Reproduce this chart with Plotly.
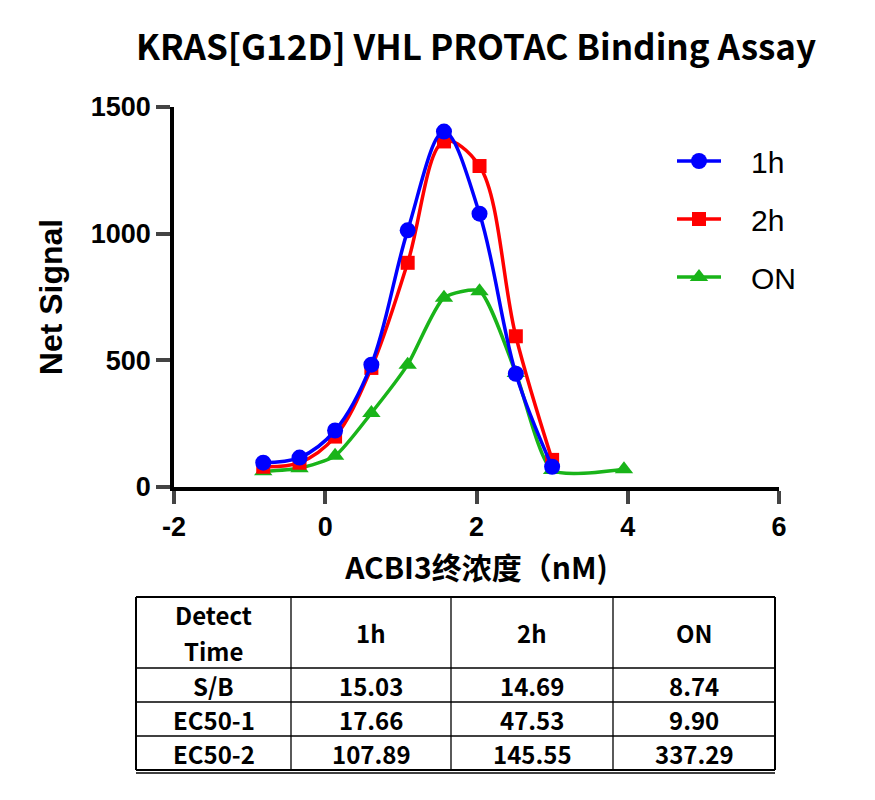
"""
KRAS[G12D] VHL PROTAC binding assay: net signal vs log concentration,
with a summary table of S/B and EC50 values underneath.
"""

import plotly.graph_objects as go

# log10 of ACBI3 final concentration (nM)
log_conc = [-0.82, -0.34, 0.13, 0.61, 1.09, 1.57, 2.04, 2.52, 3.00]
log_conc_on = [-0.82, -0.34, 0.13, 0.61, 1.09, 1.57, 2.04, 2.52, 3.00, 3.95]

signal_1h = [96, 116, 223, 483, 1013, 1403, 1079, 447, 80]
signal_2h = [80, 96, 199, 470, 885, 1364, 1267, 595, 107]
signal_on = [62, 74, 123, 292, 483, 747, 773, 450, 67, 70]

x_ticks = [-2, 0, 2, 4, 6]
x_ticktext = ["-2", "0", "2", "4", "6"]
y_ticks = [0, 500, 1000, 1500]

# summary table
table_header = ["Detect<br>Time", "1h", "2h", "ON"]
row_labels = ["S/B", "EC50-1", "EC50-2"]
col_1h = ["15.03", "17.66", "107.89"]
col_2h = ["14.69", "47.53", "145.55"]
col_on = ["8.74", "9.90", "337.29"]

BLUE = "#0000FF"
RED = "#FF0000"
GREEN = "#19B419"
CJK = "Noto Sans CJK SC"
ARIAL = "Liberation Sans"
W, H = 875, 800
OFF = 8  # the page body margin shifts the figure by this much
NB = "\u00a0"  # pads legend labels away from the symbol


def px(x):
    return (x - OFF) / W


def py(y):
    return 1 - (y - OFF) / H


fig = go.Figure()

# drawn in this order so blue sits on top, as in the reference
fig.add_trace(go.Scatter(
    x=log_conc_on, y=signal_on, name=NB * 3 + "ON",
    mode="lines+markers", line=dict(color=GREEN, width=3.5, shape="spline", smoothing=0.6),
    marker=dict(symbol="triangle-up", size=16, color=GREEN),
    legendgroup="on", legendrank=3,
))
fig.add_trace(go.Scatter(
    x=log_conc, y=signal_2h, name=NB * 3 + "2h",
    mode="lines+markers", line=dict(color=RED, width=3.5, shape="spline", smoothing=1.0),
    marker=dict(symbol="square", size=14, color=RED),
    legendgroup="2h", legendrank=2,
))
fig.add_trace(go.Scatter(
    x=log_conc, y=signal_1h, name=NB * 3 + "1h",
    mode="lines+markers", line=dict(color=BLUE, width=3.5, shape="spline", smoothing=1.0),
    marker=dict(symbol="circle", size=16, color=BLUE),
    legendgroup="1h", legendrank=1,
))

axis_font = dict(family=ARIAL, size=27, color="black", weight="bold")

fig.update_layout(
    width=W, height=H,
    margin=dict(l=0, r=0, t=0, b=0),
    plot_bgcolor="white", paper_bgcolor="white",
    title=dict(
        text="KRAS[G12D] VHL PROTAC Binding Assay",
        x=px(476), xanchor="center", y=py(48), yanchor="middle",
        font=dict(family=CJK, size=35, color="black", weight="bold"),
        automargin=False,
    ),
    xaxis=dict(
        domain=[px(174), px(779)], range=[-2, 6], automargin=False,
        tickvals=x_ticks, ticktext=x_ticktext,
        ticks="outside", ticklen=13, tickwidth=3.5,
        showline=True, linewidth=3.5, linecolor="black", showgrid=False, zeroline=False,
        tickfont=axis_font,
        title=dict(text="ACBI3终浓度（nM)", standoff=18,
                   font=dict(family=CJK, size=30, color="black", weight="bold")),
    ),
    yaxis=dict(
        domain=[py(487), py(107)], range=[0, 1500], automargin=False,
        tickvals=y_ticks, ticks="outside", ticklen=14, tickwidth=3.5,
        showline=True, linewidth=3.5, linecolor="black", showgrid=False, zeroline=False,
        tickfont=axis_font,
        title=dict(text="Net Signal", standoff=20,
                   font=dict(family=ARIAL, size=32, color="black", weight="bold")),
    ),
    legend=dict(
        x=px(672), xanchor="left", y=py(135), yanchor="top",
        font=dict(family=ARIAL, size=30, color="black"),
        tracegroupgap=16, itemwidth=44, bgcolor="rgba(0,0,0,0)",
    ),
)

# table drawn with shapes and annotations so rows keep their tight heights
col_edges = [136, 291, 451, 613, 775]
row_edges = [597, 668, 702, 736, 770]
inner = dict(color="black", width=1.3)
outer = dict(color="black", width=2)

for i, xe in enumerate(col_edges):
    fig.add_shape(type="line", xref="paper", yref="paper",
                  x0=px(xe), x1=px(xe), y0=py(row_edges[0]), y1=py(row_edges[-1]),
                  line=outer if i in (0, len(col_edges) - 1) else inner)
for i, ye in enumerate(row_edges):
    fig.add_shape(type="line", xref="paper", yref="paper",
                  x0=px(col_edges[0]), x1=px(col_edges[-1]), y0=py(ye), y1=py(ye),
                  line=outer if i in (0, len(row_edges) - 1) else inner)
# double rule along the bottom
fig.add_shape(type="line", xref="paper", yref="paper",
              x0=px(col_edges[0]), x1=px(col_edges[-1]), y0=py(773), y1=py(773),
              line=inner)

cell_font = dict(family=CJK, size=24, color="black", weight="bold")
table_cols = [[table_header[0]] + row_labels,
              [table_header[1]] + col_1h,
              [table_header[2]] + col_2h,
              [table_header[3]] + col_on]
for c, col in enumerate(table_cols):
    xc = (col_edges[c] + col_edges[c + 1]) / 2
    for r, txt in enumerate(col):
        yc = (row_edges[r] + row_edges[r + 1]) / 2
        lines = txt.split("<br>")
        # two-line header cell: place each line on its own, 36 px apart
        for k, line_txt in enumerate(lines):
            y_line = yc + (k - (len(lines) - 1) / 2) * 36
            fig.add_annotation(
                x=px(xc), y=py(y_line), xref="paper", yref="paper",
                text=line_txt, showarrow=False, xanchor="center", yanchor="middle",
                font=cell_font,
            )

fig.write_html("out.html")
